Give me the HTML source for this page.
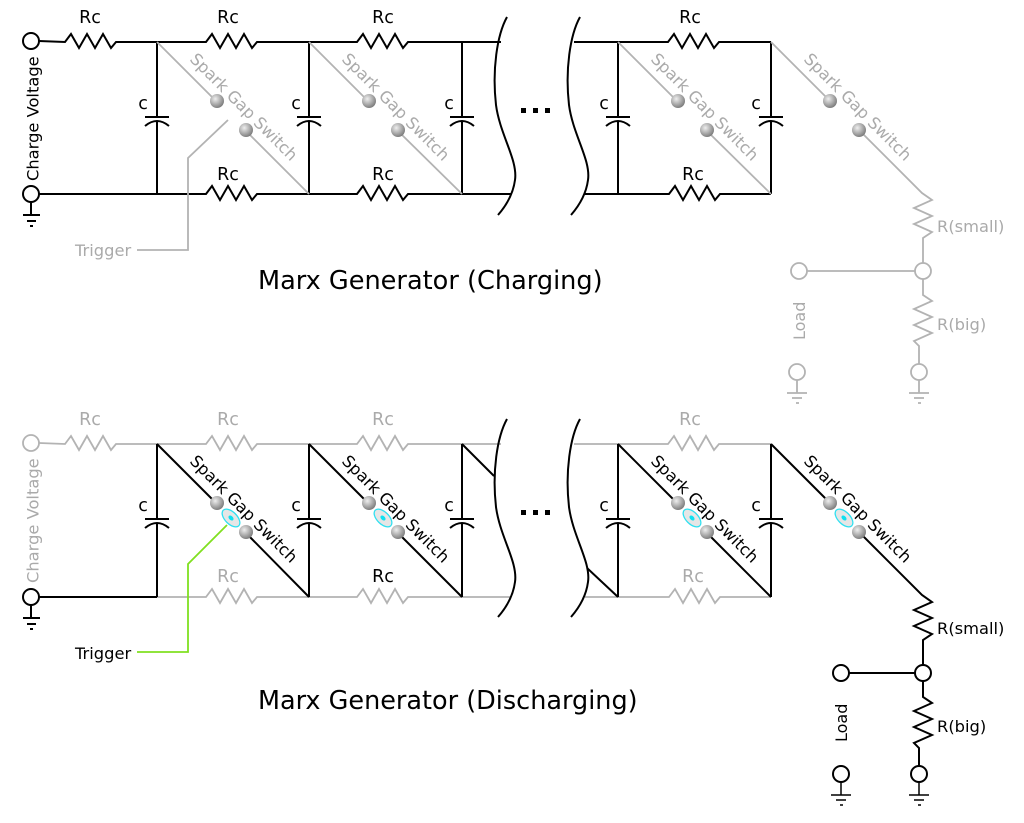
<!DOCTYPE html>
<html><head><meta charset="utf-8"><style>
html,body{margin:0;padding:0;background:#fff;}
svg{display:block;}
text{font-family:"DejaVu Sans","Liberation Sans",sans-serif;}
</style></head><body>
<svg width="1024" height="823" viewBox="0 0 1024 823" xmlns="http://www.w3.org/2000/svg">
<defs>
<radialGradient id="sph" cx="0.38" cy="0.35" r="0.7">
<stop offset="0" stop-color="#eeeeee"/><stop offset="1" stop-color="#777777"/>
</radialGradient>
</defs>

<!-- ================= TOP (CHARGING) ================= -->
<g fill="none" stroke="#000" stroke-width="2" stroke-linejoin="miter">
  <circle cx="31" cy="41" r="8" fill="#fff"/>
  <path d="M39,41 L65,42 l6,-8 l8,14 l8,-14 l8,14 l8,-14 l8,14 l5,-6 L206,42 l6,-8 l8,14 l8,-14 l8,14 l8,-14 l8,14 l5,-6 L357,42 l6,-8 l8,14 l8,-14 l8,14 l8,-14 l8,14 l5,-6 L501,42"/>
  <path d="M574,42 L668,42 l6,-8 l8,14 l8,-14 l8,14 l8,-14 l8,14 l5,-6 L771,42"/>
  <path d="M39,194 L206,194 l6,-8 l8,14 l8,-14 l8,14 l8,-14 l8,14 l5,-6 L357,194 l6,-8 l8,14 l8,-14 l8,14 l8,-14 l8,14 l5,-6 L511,194"/>
  <path d="M585,194 L669,194 l6,-8 l8,14 l8,-14 l8,14 l8,-14 l8,14 l5,-6 L771,194"/>
  <circle cx="31" cy="194" r="8" fill="#fff"/>
  <path d="M31,202 V215 M23,215 H40 M27,221 H36 M30,226 H33"/>
  <path d="M157,42 V117 M145,117 H169 M145,126 Q157,116 169,126 M157,121 V194"/>
  <path d="M309,42 V117 M297,117 H321 M297,126 Q309,116 321,126 M309,121 V194"/>
  <path d="M462,42 V117 M450,117 H474 M450,126 Q462,116 474,126 M462,121 V194"/>
  <path d="M618,42 V117 M606,117 H630 M606,126 Q618,116 630,126 M618,121 V194"/>
  <path d="M771,42 V117 M759,117 H783 M759,126 Q771,116 783,126 M771,121 V194"/>
  <path d="M507,17 C497,35 492,70 496,105 C500,135 518,160 515,180 C513,195 505,207 498,215"/>
  <path d="M580,17 C570,35 565,70 569,105 C573,135 591,160 588,180 C586,195 578,207 571,215"/>
</g>
<g fill="#000">
  <rect x="521" y="108" width="5" height="5"/><rect x="533" y="108" width="5" height="5"/><rect x="545" y="108" width="5" height="5"/>
</g>
<g font-size="17.5" fill="#000" text-anchor="middle">
  <text x="90" y="23">Rc</text><text x="228" y="23">Rc</text><text x="383" y="23">Rc</text><text x="690" y="23">Rc</text>
  <text x="228" y="180">Rc</text><text x="383" y="180">Rc</text><text x="693" y="180">Rc</text>
  <text x="143" y="109">c</text><text x="296" y="109">c</text><text x="449" y="109">c</text><text x="604" y="109">c</text><text x="756" y="109">c</text>
</g>
<text transform="translate(38.5,181) rotate(-90)" font-size="16.3" fill="#000">Charge Voltage</text>

<g fill="none" stroke="#b3b3b3" stroke-width="1.8">
  <path d="M157,42 L217,102 M246,131 L309,194"/>
  <path d="M309,42 L369,102 M398,131 L462,194"/>
  <path d="M618,42 L678,102 M707,131 L771,194"/>
  <path d="M771,42 L831,102 M860,131 L922,193 l10,7 l-18,8 l18,8 l-18,8 l18,8 l-9,6 V263"/>
  <circle cx="923" cy="271" r="8" fill="#fff"/>
  <circle cx="799" cy="271" r="8" fill="#fff"/>
  <path d="M807,271 H915"/>
  <path d="M923,279 V295 l9,6 l-18,8 l18,8 l-18,8 l18,8 l-18,8 l5,5 V364"/>
  <circle cx="919" cy="372" r="8" fill="#fff"/>
  <circle cx="797" cy="372" r="8" fill="#fff"/>
  <path d="M797,380 V393 M787,393 H807 M792,398 H802 M796,403 H799"/>
  <path d="M919,380 V393 M909,393 H929 M914,398 H924 M918,403 H921"/>
  <path d="M137,250 H188 V158 L228,120"/>
</g>
<g fill="url(#sph)">
  <circle cx="217" cy="101" r="7"/><circle cx="246" cy="130" r="7"/>
  <circle cx="369" cy="101" r="7"/><circle cx="398" cy="130" r="7"/>
  <circle cx="678" cy="101" r="7"/><circle cx="707" cy="130" r="7"/>
  <circle cx="830" cy="101" r="7"/><circle cx="859" cy="130" r="7"/>
</g>
<g font-size="16.3" fill="#aaa">
  <text transform="translate(189,60) rotate(45)">Spark Gap Switch</text>
  <text transform="translate(341,60) rotate(45)">Spark Gap Switch</text>
  <text transform="translate(650,60) rotate(45)">Spark Gap Switch</text>
  <text transform="translate(803,60) rotate(45)">Spark Gap Switch</text>
  <text x="75" y="256" font-size="16.3">Trigger</text>
  <text x="937" y="232">R(small)</text>
  <text x="937" y="330">R(big)</text>
  <text transform="translate(805,340) rotate(-90)" font-size="16">Load</text>
</g>
<text x="258" y="289" font-size="25.6" fill="#000">Marx Generator (Charging)</text>

<!-- ================= BOTTOM (DISCHARGING) ================= -->
<g transform="translate(0,402)">
  <g fill="none" stroke="#b3b3b3" stroke-width="1.8">
    <circle cx="31" cy="41" r="8" fill="#fff"/>
    <path d="M39,41 L65,42 l6,-8 l8,14 l8,-14 l8,14 l8,-14 l8,14 l5,-6 L206,42 l6,-8 l8,14 l8,-14 l8,14 l8,-14 l8,14 l5,-6 L357,42 l6,-8 l8,14 l8,-14 l8,14 l8,-14 l8,14 l5,-6 L501,42"/>
    <path d="M574,42 L668,42 l6,-8 l8,14 l8,-14 l8,14 l8,-14 l8,14 l5,-6 L771,42"/>
    <path d="M157,195 L206,195 l6,-8 l8,14 l8,-14 l8,14 l8,-14 l8,14 l5,-6 L357,195 l6,-8 l8,14 l8,-14 l8,14 l8,-14 l8,14 l5,-6 L511,195"/>
    <path d="M585,195 L669,195 l6,-8 l8,14 l8,-14 l8,14 l8,-14 l8,14 l5,-6 L771,195"/>
  </g>
  <g fill="none" stroke="#000" stroke-width="2">
    <circle cx="31" cy="195" r="8" fill="#fff"/>
    <path d="M39,195 H157"/>
    <path d="M31,203 V216 M23,216 H40 M27,222 H36 M30,227 H33"/>
    <path d="M157,42 V117 M145,117 H169 M145,126 Q157,116 169,126 M157,121 V195"/>
    <path d="M309,42 V117 M297,117 H321 M297,126 Q309,116 321,126 M309,121 V195"/>
    <path d="M462,42 V117 M450,117 H474 M450,126 Q462,116 474,126 M462,121 V195"/>
    <path d="M618,42 V117 M606,117 H630 M606,126 Q618,116 630,126 M618,121 V195"/>
    <path d="M771,42 V117 M759,117 H783 M759,126 Q771,116 783,126 M771,121 V195"/>
    <path d="M157,42 L217,102 M246,131 L309,195"/>
    <path d="M309,42 L369,102 M398,131 L462,195"/>
    <path d="M618,42 L678,102 M707,131 L771,195"/>
    <path d="M462,42 L494,74 M587,166 L618,195"/>
    <path d="M771,42 L831,102 M860,131 L922,193 l10,7 l-18,8 l18,8 l-18,8 l18,8 l-9,6 V263"/>
    <circle cx="923" cy="271" r="8" fill="#fff"/>
    <circle cx="841" cy="271" r="8" fill="#fff"/>
    <path d="M849,271 H915"/>
    <path d="M923,279 V295 l9,6 l-18,8 l18,8 l-18,8 l18,8 l-18,8 l5,5 V364"/>
    <circle cx="919" cy="372" r="8" fill="#fff"/>
    <circle cx="841" cy="372" r="8" fill="#fff"/>
    <path d="M841,380 V393 M831,393 H851 M836,398 H846 M840,403 H843" stroke-width="1.5"/>
    <path d="M919,380 V393 M909,393 H929 M914,398 H924 M918,403 H921" stroke-width="1.5"/>
    <path d="M507,17 C497,35 492,70 496,105 C500,135 518,160 515,180 C513,195 505,207 498,215"/>
    <path d="M580,17 C570,35 565,70 569,105 C573,135 591,160 588,180 C586,195 578,207 571,215"/>
  </g>
  <g fill="#000">
    <rect x="521" y="108" width="5" height="5"/><rect x="533" y="108" width="5" height="5"/><rect x="545" y="108" width="5" height="5"/>
  </g>
  <path d="M137,250 H188 V162 L227,123" fill="none" stroke="#80e020" stroke-width="1.8"/>
  <g fill="url(#sph)">
    <circle cx="217" cy="101" r="7"/><circle cx="246" cy="130" r="7"/>
    <circle cx="369" cy="101" r="7"/><circle cx="398" cy="130" r="7"/>
    <circle cx="678" cy="101" r="7"/><circle cx="707" cy="130" r="7"/>
    <circle cx="830" cy="101" r="7"/><circle cx="859" cy="130" r="7"/>
  </g>
  <g>
    <g transform="translate(231,116) rotate(45)"><ellipse rx="11" ry="6" fill="#e6e6e6" stroke="#30e0f0" stroke-width="1.3"/><ellipse rx="3" ry="2" fill="#10e0f0"/></g>
    <g transform="translate(383,116) rotate(45)"><ellipse rx="11" ry="6" fill="#e6e6e6" stroke="#30e0f0" stroke-width="1.3"/><ellipse rx="3" ry="2" fill="#10e0f0"/></g>
    <g transform="translate(692,116) rotate(45)"><ellipse rx="11" ry="6" fill="#e6e6e6" stroke="#30e0f0" stroke-width="1.3"/><ellipse rx="3" ry="2" fill="#10e0f0"/></g>
    <g transform="translate(844,116) rotate(45)"><ellipse rx="11" ry="6" fill="#e6e6e6" stroke="#30e0f0" stroke-width="1.3"/><ellipse rx="3" ry="2" fill="#10e0f0"/></g>
  </g>
  <g font-size="17.5" text-anchor="middle">
    <text x="90" y="23" fill="#aaa">Rc</text><text x="228" y="23" fill="#aaa">Rc</text><text x="383" y="23" fill="#aaa">Rc</text><text x="690" y="23" fill="#aaa">Rc</text>
    <text x="228" y="180" fill="#aaa">Rc</text><text x="383" y="180" fill="#000">Rc</text><text x="693" y="180" fill="#aaa">Rc</text>
    <text x="143" y="109">c</text><text x="296" y="109">c</text><text x="449" y="109">c</text><text x="604" y="109">c</text><text x="756" y="109">c</text>
  </g>
  <text transform="translate(38.5,181) rotate(-90)" font-size="16.3" fill="#aaa">Charge Voltage</text>
  <g font-size="16.3" fill="#000">
    <text transform="translate(189,60) rotate(45)">Spark Gap Switch</text>
    <text transform="translate(341,60) rotate(45)">Spark Gap Switch</text>
    <text transform="translate(650,60) rotate(45)">Spark Gap Switch</text>
    <text transform="translate(803,60) rotate(45)">Spark Gap Switch</text>
    <text x="75" y="257" font-size="16.3">Trigger</text>
    <text x="937" y="232">R(small)</text>
    <text x="937" y="330">R(big)</text>
    <text transform="translate(847,340) rotate(-90)" font-size="16">Load</text>
  </g>
</g>
<text x="258" y="709" font-size="25.5" fill="#000">Marx Generator (Discharging)</text>
</svg>
</body></html>
